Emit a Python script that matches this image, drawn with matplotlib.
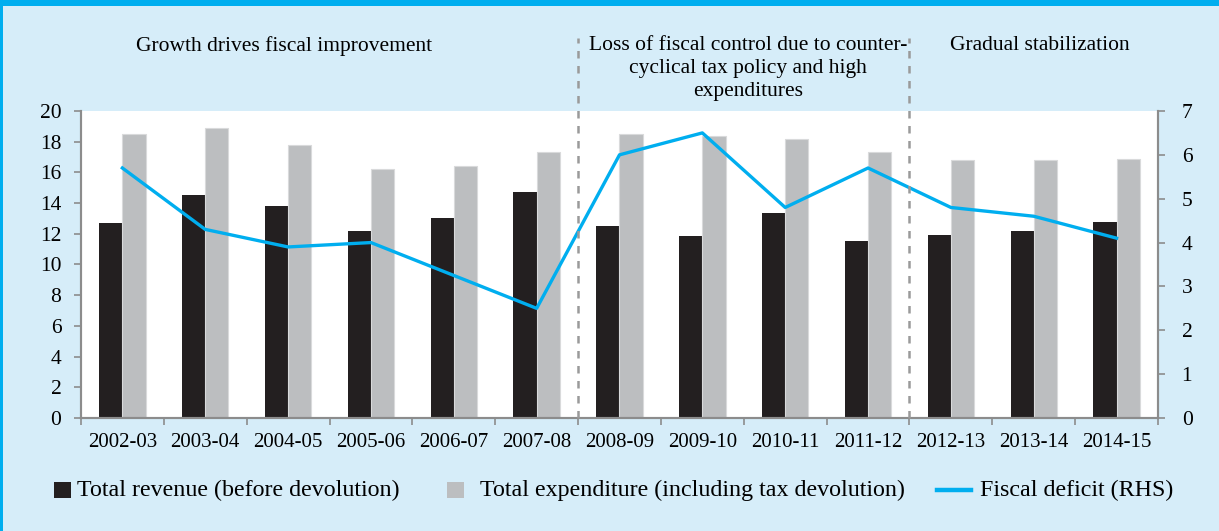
import numpy as np
import matplotlib
matplotlib.use("Agg")
import matplotlib.pyplot as plt
from matplotlib.patches import Rectangle
from matplotlib.lines import Line2D

# donnees (% du PIB)
annees = ['2002-03', '2003-04', '2004-05', '2005-06', '2006-07', '2007-08', '2008-09',
          '2009-10', '2010-11', '2011-12', '2012-13', '2013-14', '2014-15']
recettes = [12.7, 14.5, 13.8, 12.2, 13.0, 14.7, 12.5, 11.85, 13.35, 11.55, 11.95, 12.15, 12.75]
depenses = [18.5, 18.9, 17.8, 16.2, 16.4, 17.3, 18.5, 18.4, 18.2, 17.3, 16.8, 16.8, 16.9]
deficit = [5.7, 4.3, 3.9, 4.0, 3.25, 2.5, 6.0, 6.5, 4.8, 5.7, 4.8, 4.6, 4.1]

periodes = ['Growth drives fiscal improvement',
            'Loss of fiscal control due to counter-\ncyclical tax policy and high\nexpenditures',
            'Gradual stabilization']
# position horizontale des titres (en unites de categories)
centres_titres = [1.95, 7.55, 11.07]
separations = [5.5, 9.5]

plt.rcParams['font.family'] = ['Liberation Serif', 'DejaVu Serif']
fond = '#D6EDF9'
bleu = '#00AEEF'
noir = '#231F20'
gris = '#BCBEC0'
gris_axe = '#8C8C8C'
W, H = 1219, 531

gauche, bas, larg, haut = 0.0664, 0.2128, 0.8836, 0.5782
fig = plt.figure(figsize=(W / 100, H / 100), dpi=100, facecolor=fond)
ax = fig.add_axes([gauche, bas, larg, haut])
ax2 = ax.twinx()

x = np.arange(len(annees))
largeur = 0.28
ax.bar(x - largeur / 2, recettes, largeur, color=noir, zorder=2)
ax.bar(x + largeur / 2, depenses, largeur, color=gris, edgecolor='#D9DADB', linewidth=0.8, zorder=2)
ax2.plot(x, deficit, color=bleu, linewidth=2.4, zorder=3)

ax.set_xlim(-0.5, len(annees) - 0.5)
ax.set_ylim(0, 20)
ax2.set_ylim(0, 7)
ax.set_yticks(range(0, 21, 2))
ax2.set_yticks(range(0, 8))

# ticks aux limites des categories, etiquettes au centre
ax.set_xticks(np.arange(-0.5, len(annees), 1.0))
ax.set_xticklabels([])
ax.set_xticks(x, minor=True)
ax.set_xticklabels(annees, minor=True)
ax.tick_params(axis='x', which='major', length=5, color=gris_axe, width=1.2)
ax.tick_params(axis='x', which='minor', length=0, pad=11, labelsize=15)
ax.tick_params(axis='y', length=5, color=gris_axe, width=1.2, labelsize=15.5, pad=9)
ax2.tick_params(axis='y', length=5, color=gris_axe, width=1.2, labelsize=15.5, pad=12)

for a in (ax, ax2):
    a.spines['top'].set_visible(False)
    for s in ('left', 'right', 'bottom'):
        a.spines[s].set_color(gris_axe)
        a.spines[s].set_linewidth(1.5)
ax.set_zorder(ax2.get_zorder() - 1)
ax.patch.set_visible(True)
ax.patch.set_facecolor('white')
ax2.patch.set_visible(False)

# lignes pointillees de separation des periodes
y_haut = 1 - 38 / H
for s in separations:
    xf = gauche + larg * (s + 0.5) / len(annees)
    fig.add_artist(Line2D([xf, xf], [bas, y_haut], transform=fig.transFigure,
                          color='#9A9A9A', linewidth=1.8, linestyle=(0, (3, 3)), zorder=5))

# titres des periodes
for t, c in zip(periodes, centres_titres):
    xf = gauche + larg * (c + 0.5) / len(annees)
    fig.text(xf, 1 - 36 / H, t, ha='center', va='top', fontsize=15.5, linespacing=1.3)

# cadre bleu
fig.add_artist(Rectangle((0, 1 - 6 / H), 1, 6 / H, transform=fig.transFigure,
                         facecolor=bleu, edgecolor='none'))
fig.add_artist(Rectangle((0, 0), 3 / W, 1, transform=fig.transFigure,
                         facecolor=bleu, edgecolor='none'))

# legende dessinee a la main (espacements differents selon l'element)
y_leg = 1 - 490 / H
fig.add_artist(Rectangle((54 / W, 1 - 498 / H), 17 / W, 16 / H, transform=fig.transFigure,
                         facecolor=noir, edgecolor='none'))
fig.text(77 / W, y_leg, 'Total revenue (before devolution)', va='center', fontsize=17.3)
fig.add_artist(Rectangle((447 / W, 1 - 498 / H), 17 / W, 16 / H, transform=fig.transFigure,
                         facecolor=gris, edgecolor='none'))
fig.text(480 / W, y_leg, 'Total expenditure (including tax devolution)', va='center', fontsize=17.3)
fig.add_artist(Line2D([937 / W, 971 / W], [y_leg, y_leg], transform=fig.transFigure,
                      color=bleu, linewidth=3.2))
fig.text(980 / W, y_leg, 'Fiscal deficit (RHS)', va='center', fontsize=17.3)

fig.savefig('out.png', dpi=100, facecolor=fond)
